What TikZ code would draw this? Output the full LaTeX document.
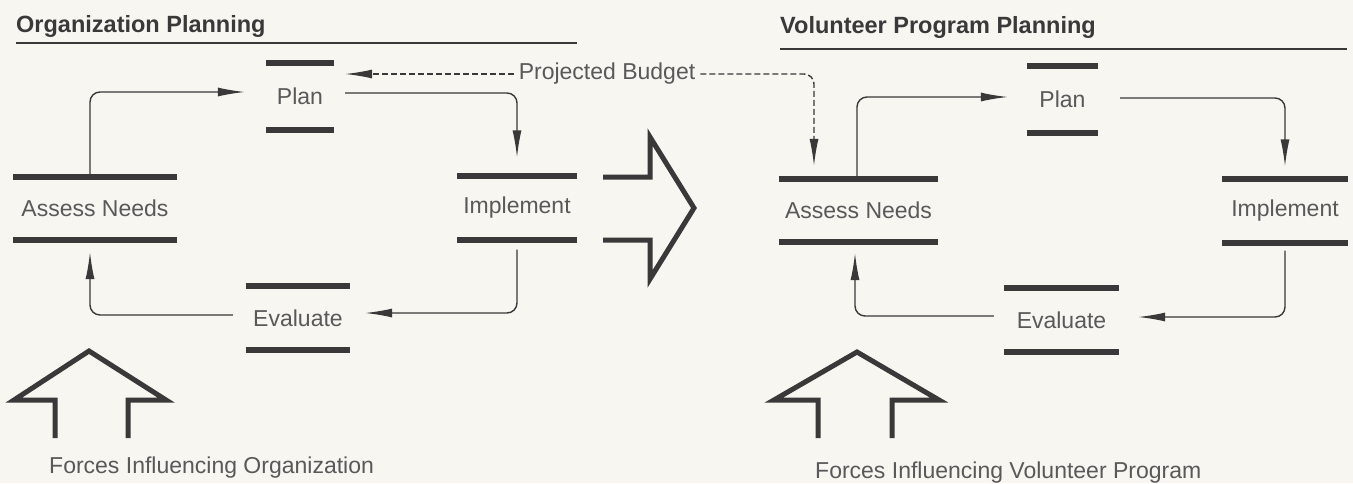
\documentclass[tikz,border=0pt]{standalone}
\usepackage{fontspec}
\setmainfont{Liberation Sans}
\usetikzlibrary{arrows.meta}
\definecolor{ink}{RGB}{58,56,56}
\definecolor{txt}{RGB}{90,88,88}
\definecolor{paper}{RGB}{248,246,241}
\begin{document}
\begin{tikzpicture}
[x=1pt,y=-1pt,%
  every node/.style={text=txt,font=\fontsize{23}{27}\selectfont},%
  bar/.style={-,line width=6pt,draw=ink},%
  stage/.style={inner sep=0pt,minimum width=#1,minimum height=63pt,%
    append after command={(\tikzlastnode.north west) edge[bar] (\tikzlastnode.north east)
      (\tikzlastnode.south west) edge[bar] (\tikzlastnode.south east)}},%
  flow/.style={draw=ink,line width=1.4pt,rounded corners=10pt,-{Latex[length=27pt,width=9pt]}},%
  budget/.style={flow,dash pattern=on 6pt off 3pt},%
  bigarrow/.style={draw=ink,line width=5pt,miter limit=10},%
  title/.style={anchor=base west,inner sep=0pt,text=ink,font=\fontsize{23.5}{28}\selectfont\bfseries},%
  rule/.style={draw=ink,line width=1.5pt}]
\fill[paper] (0,0) rectangle (1353,483);
\useasboundingbox (0,0) rectangle (1353,483);
\node[title] (orgT) at (16,32) {Organization Planning};
\draw[rule] (16,43) -- (577,43);
\node[title] (volT) at (780,33) {Volunteer Program Planning};
\draw[rule] (780,49) -- (1347,49);
\node[stage=68pt,minimum height=67pt] (planA) at (300,96.5) {Plan};
\node[stage=163pt] (assessA) at (95,208.5) {Assess Needs};
\node[stage=120pt] (implA) at (517,208) {Implement};
\node[stage=104pt] (evalA) at (298,318) {Evaluate};
\node[stage=71pt,minimum height=67pt] (planB) at (1062.5,99.5) {Plan};
\node[stage=159pt] (assessB) at (858.5,210.5) {Assess Needs};
\node[stage=126pt] (implB) at (1285,211) {Implement};
\node[stage=115pt] (evalB) at (1061.5,320) {Evaluate};
\node[inner sep=5pt] (budget) at (607,74) {Projected Budget};
\draw[flow] ([xshift=-5pt]assessA.north) |- ([xshift=-21pt,yshift=4.5pt]planA.west);
\draw[flow] ([xshift=11pt,yshift=3.5pt]planA.east) -| ([yshift=19pt]implA.north);
\draw[flow] ([yshift=-10pt]implA.south) |- ([xshift=15pt,yshift=5pt]evalA.east);
\draw[flow] ([xshift=-13pt,yshift=3pt]evalA.west) -| ([xshift=-5pt,yshift=-12pt]assessA.south);
\draw[flow] ([xshift=-1.5pt]assessB.north) |- ([xshift=-19pt,yshift=2.5pt]planB.west);
\draw[flow] ([xshift=22pt,yshift=1.5pt]planB.east) -| ([yshift=13pt]implB.north);
\draw[flow] ([yshift=-8pt]implB.south) |- ([xshift=19pt,yshift=3pt]evalB.east);
\draw[flow] ([xshift=-10pt,yshift=4pt]evalB.west) -| ([xshift=-3.5pt,yshift=-11pt]assessB.south);
\draw[budget] (budget.west) -- ([xshift=11pt]planA.east |- budget.west);
\draw[budget] (budget.east) -| ([xshift=-44.5pt,yshift=13pt]assessB.north);
\draw[bigarrow] (603,177) -- (650,177) -- (650,137) -- (694,208) -- (650,279) -- (650,240) -- (603,240);
\draw[bigarrow] (55,438) -- (55,400) -- (14,400) -- (89,351) -- (166,400) -- (128,400) -- (128,438);
\draw[bigarrow] (818,438) -- (818,400) -- (774,400) -- (857,352) -- (939,400) -- (892,400) -- (892,438);
\node[anchor=base west,inner sep=0pt] (forcesA) at (49,473) {Forces Influencing Organization};
\node[anchor=base west,inner sep=0pt] (forcesB) at (815,478) {Forces Influencing Volunteer Program};
\end{tikzpicture}
\end{document}
